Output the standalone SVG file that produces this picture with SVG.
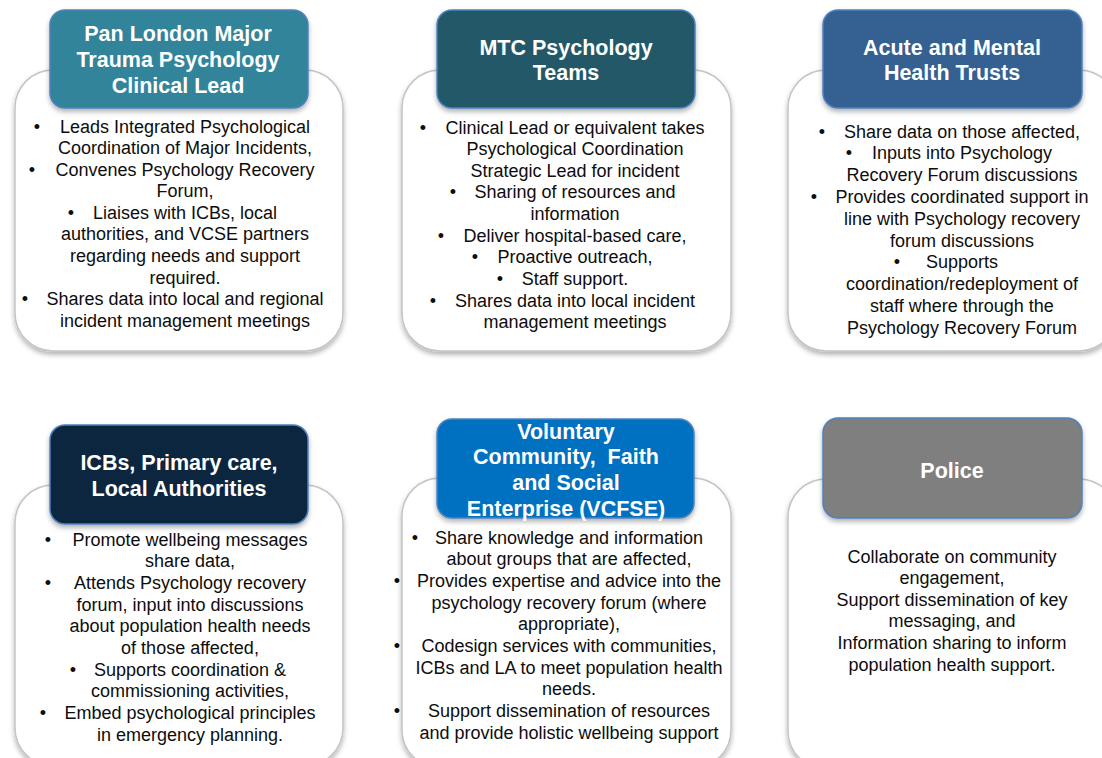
<svg xmlns="http://www.w3.org/2000/svg" width="1102" height="758" viewBox="0 0 1102 758">
<defs>
<filter id="sh" x="-10%" y="-10%" width="120%" height="125%">
<feDropShadow dx="0" dy="3" stdDeviation="2.5" flood-color="#000" flood-opacity="0.3"/>
</filter>
<style>
.card{fill:#fff;stroke:#C4C4C4;stroke-width:1.5;filter:url(#sh)}
.hdr{stroke:#4F81BD;stroke-width:1.5;filter:url(#sh)}
.ht{font-family:"Liberation Sans",Arial,sans-serif;font-weight:bold;font-size:21.5px;fill:#fff;text-anchor:middle}
.bt{font-family:"Liberation Sans",Arial,sans-serif;font-size:18px;fill:#0D0D0D;text-anchor:middle}
</style>
</defs>
<rect width="1102" height="758" fill="#fff"/>

<g id="node-pan-london">
<rect class="card" x="15" y="70" width="328" height="281" rx="38"/>
<rect class="hdr" x="50" y="10" width="258" height="98" rx="15" fill="#31849B"/>
<text class="ht" x="178" y="41">Pan London Major</text>
<text class="ht" x="178" y="67">Trauma Psychology</text>
<text class="ht" x="178" y="93">Clinical Lead</text>
<text class="bt" x="37" y="132.5">•</text>
<text class="bt" x="185" y="132.5">Leads Integrated Psychological</text>
<text class="bt" x="185" y="154">Coordination of Major Incidents,</text>
<text class="bt" x="32" y="175.5">•</text>
<text class="bt" x="185" y="175.5">Convenes Psychology Recovery</text>
<text class="bt" x="185" y="197">Forum,</text>
<text class="bt" x="71" y="218.5">•</text>
<text class="bt" x="185" y="218.5">Liaises with ICBs, local</text>
<text class="bt" x="185" y="240">authorities, and VCSE partners</text>
<text class="bt" x="185" y="262">regarding needs and support</text>
<text class="bt" x="185" y="283.5">required.</text>
<text class="bt" x="25" y="305">•</text>
<text class="bt" x="185" y="305">Shares data into local and regional</text>
<text class="bt" x="185" y="327">incident management meetings</text>
</g>

<g id="node-mtc">
<rect class="card" x="402" y="70" width="329" height="281" rx="38"/>
<rect class="hdr" x="437" y="10" width="258" height="98" rx="15" fill="#215968"/>
<text class="ht" x="566" y="54.5">MTC Psychology</text>
<text class="ht" x="566" y="80">Teams</text>
<text class="bt" x="423" y="133.5">•</text>
<text class="bt" x="575" y="133.5">Clinical Lead or equivalent takes</text>
<text class="bt" x="575" y="155">Psychological Coordination</text>
<text class="bt" x="575" y="176.5">Strategic Lead for incident</text>
<text class="bt" x="453" y="198">•</text>
<text class="bt" x="575" y="198">Sharing of resources and</text>
<text class="bt" x="575" y="220">information</text>
<text class="bt" x="441" y="241.5">•</text>
<text class="bt" x="575" y="241.5">Deliver hospital-based care,</text>
<text class="bt" x="475" y="263">•</text>
<text class="bt" x="575" y="263">Proactive outreach,</text>
<text class="bt" x="500" y="285">•</text>
<text class="bt" x="575" y="285">Staff support.</text>
<text class="bt" x="433" y="306.5">•</text>
<text class="bt" x="575" y="306.5">Shares data into local incident</text>
<text class="bt" x="575" y="328">management meetings</text>
</g>

<g id="node-acute">
<rect class="card" x="788" y="70" width="329" height="281" rx="38"/>
<rect class="hdr" x="823" y="10" width="259" height="98" rx="15" fill="#366092"/>
<text class="ht" x="952" y="54.5">Acute and Mental</text>
<text class="ht" x="952" y="80">Health Trusts</text>
<text class="bt" x="822" y="137.5">•</text>
<text class="bt" x="962" y="137.5">Share data on those affected,</text>
<text class="bt" x="849" y="159.3">•</text>
<text class="bt" x="962" y="159.3">Inputs into Psychology</text>
<text class="bt" x="962" y="181.1">Recovery Forum discussions</text>
<text class="bt" x="814" y="202.9">•</text>
<text class="bt" x="962" y="202.9">Provides coordinated support in</text>
<text class="bt" x="962" y="224.7">line with Psychology recovery</text>
<text class="bt" x="962" y="246.5">forum discussions</text>
<text class="bt" x="897" y="268.3">•</text>
<text class="bt" x="962" y="268.3">Supports</text>
<text class="bt" x="962" y="290.1">coordination/redeployment of</text>
<text class="bt" x="962" y="311.9">staff where through the</text>
<text class="bt" x="962" y="333.7">Psychology Recovery Forum</text>
</g>

<g id="node-icbs">
<rect class="card" x="15" y="485" width="328" height="281" rx="38"/>
<rect class="hdr" x="50" y="425" width="258" height="99" rx="15" fill="#10253F"/>
<text class="ht" x="179" y="469.5">ICBs, Primary care,</text>
<text class="ht" x="179" y="495.5">Local Authorities</text>
<text class="bt" x="48" y="545.5">•</text>
<text class="bt" x="190" y="545.5">Promote wellbeing messages</text>
<text class="bt" x="190" y="567.2">share data,</text>
<text class="bt" x="48" y="588.8">•</text>
<text class="bt" x="190" y="588.8">Attends Psychology recovery</text>
<text class="bt" x="190" y="610.5">forum, input into discussions</text>
<text class="bt" x="190" y="632.2">about population health needs</text>
<text class="bt" x="190" y="653.8">of those affected,</text>
<text class="bt" x="73" y="675.5">•</text>
<text class="bt" x="190" y="675.5">Supports coordination &amp;</text>
<text class="bt" x="190" y="697.2">commissioning activities,</text>
<text class="bt" x="43" y="718.8">•</text>
<text class="bt" x="190" y="718.8">Embed psychological principles</text>
<text class="bt" x="190" y="740.5">in emergency planning.</text>
</g>

<g id="node-vcfse">
<rect class="card" x="402" y="478" width="329" height="290" rx="38"/>
<rect class="hdr" x="437" y="419" width="257" height="99" rx="15" fill="#0070C0"/>
<text class="ht" x="566" y="438.5">Voluntary</text>
<text class="ht" x="566" y="464">Community,&#160; Faith</text>
<text class="ht" x="566" y="490">and Social</text>
<text class="ht" x="566" y="516">Enterprise (VCFSE)</text>
<text class="bt" x="415" y="543.5">•</text>
<text class="bt" x="569" y="543.5">Share knowledge and information</text>
<text class="bt" x="569" y="565.2">about groups that are affected,</text>
<text class="bt" x="397" y="586.8">•</text>
<text class="bt" x="569" y="586.8">Provides expertise and advice into the</text>
<text class="bt" x="569" y="608.5">psychology recovery forum (where</text>
<text class="bt" x="569" y="630.2">appropriate),</text>
<text class="bt" x="397" y="651.8">•</text>
<text class="bt" x="569" y="651.8">Codesign services with communities,</text>
<text class="bt" x="569" y="673.5">ICBs and LA to meet population health</text>
<text class="bt" x="569" y="695.2">needs.</text>
<text class="bt" x="397" y="716.8">•</text>
<text class="bt" x="569" y="716.8">Support dissemination of resources</text>
<text class="bt" x="569" y="738.5">and provide holistic wellbeing support</text>
</g>

<g id="node-police">
<rect class="card" x="788" y="479" width="329" height="290" rx="38"/>
<rect class="hdr" x="823" y="418" width="259" height="100" rx="15" fill="#7F7F7F"/>
<text class="ht" x="952" y="477.5">Police</text>
<text class="bt" x="952" y="562.5">Collaborate on community</text>
<text class="bt" x="952" y="584.1">engagement,</text>
<text class="bt" x="952" y="605.7">Support dissemination of key</text>
<text class="bt" x="952" y="627.3">messaging, and</text>
<text class="bt" x="952" y="648.9">Information sharing to inform</text>
<text class="bt" x="952" y="670.5">population health support.</text>
</g>

<g id="connectors"></g>
</svg>
